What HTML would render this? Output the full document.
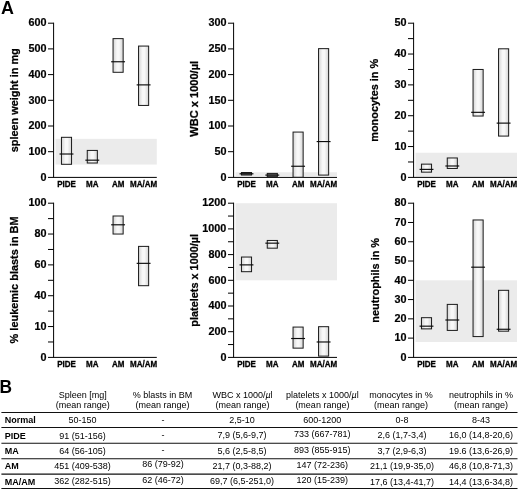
<!DOCTYPE html>
<html><head><meta charset="utf-8"><title>Figure</title>
<style>
html,body{margin:0;padding:0;background:#fff;}
body{width:520px;height:490px;overflow:hidden;}
svg{display:block;will-change:transform;font-family:"Liberation Sans",sans-serif;}
.pl{font-size:17.9px;font-weight:bold;fill:#000;}
.tk{font-size:10.8px;font-weight:bold;fill:#000;stroke:#000;stroke-width:0.2px;text-anchor:end;}
.yl{font-weight:bold;fill:#000;stroke:#000;stroke-width:0.25px;text-anchor:middle;}
.ct{font-size:9.1px;font-weight:bold;fill:#000;stroke:#000;stroke-width:0.3px;text-anchor:middle;}
.tc{font-size:9px;fill:#000;text-anchor:middle;}
.tr{font-size:9px;font-weight:bold;fill:#000;}
.ax{stroke:#000;stroke-width:1;fill:none;}
.bx{stroke:#1a1a1a;stroke-width:1;fill:url(#g);}
.md{stroke:#0a0a0a;stroke-width:1.15;fill:none;}
.ln{stroke:#111;stroke-width:1.05;fill:none;}
</style></head><body>
<svg width="520" height="490" viewBox="0 0 520 490">
<defs><linearGradient id="g" x1="0" x2="1" y1="0" y2="0"><stop offset="0" stop-color="#d4d4d4"/><stop offset="0.4" stop-color="#f8f8f8"/><stop offset="0.6" stop-color="#f8f8f8"/><stop offset="1" stop-color="#d4d4d4"/></linearGradient></defs>
<rect width="520" height="490" fill="#fff"/>
<text x="0.9" y="13.9" class="pl">A</text>
<text transform="translate(-0.4 392.5) scale(0.97 1.02)" class="pl">B</text>
<rect x="55.50" y="138.85" width="101.30" height="25.70" fill="#ebebeb"/>
<path d="M53.60 22.70V177.40M48.00 177.40H156.80" class="ax"/>
<text x="46.40" y="180.65" class="tk">0</text>
<text x="46.40" y="154.95" class="tk">100</text>
<text x="46.40" y="129.25" class="tk">200</text>
<text x="46.40" y="103.55" class="tk">300</text>
<text x="46.40" y="77.85" class="tk">400</text>
<text x="46.40" y="52.15" class="tk">500</text>
<text x="46.40" y="25.90" class="tk">600</text>
<path d="M48.00 151.70H53.60M48.00 126.00H53.60M48.00 100.30H53.60M48.00 74.60H53.60M48.00 48.90H53.60M48.00 23.20H53.60" class="ax"/>
<text transform="translate(17.60 100.30) rotate(-90)" class="yl" font-size="10.9">spleen weight in mg</text>
<text transform="translate(66.50 186.70) scale(0.88 1)" class="ct">PIDE</text>
<text transform="translate(92.30 186.70) scale(0.88 1)" class="ct">MA</text>
<text transform="translate(118.10 186.70) scale(0.88 1)" class="ct">AM</text>
<text transform="translate(143.60 186.70) scale(0.88 1)" class="ct">MA/AM</text>
<rect x="61.45" y="137.31" width="10.1" height="26.99" class="bx"/>
<path d="M59.55 154.01H73.45" class="md"/>
<rect x="87.25" y="150.42" width="10.1" height="12.59" class="bx"/>
<path d="M85.35 160.18H99.25" class="md"/>
<rect x="113.05" y="38.62" width="10.1" height="33.67" class="bx"/>
<path d="M111.15 61.75H125.05" class="md"/>
<rect x="138.55" y="46.07" width="10.1" height="59.37" class="bx"/>
<path d="M136.65 84.88H150.55" class="md"/>
<rect x="235.50" y="172.26" width="101.50" height="3.86" fill="#ebebeb"/>
<path d="M233.60 22.70V177.40M228.00 177.40H337.00" class="ax"/>
<text x="226.40" y="180.65" class="tk">0</text>
<text x="226.40" y="154.95" class="tk">50</text>
<text x="226.40" y="129.25" class="tk">100</text>
<text x="226.40" y="103.55" class="tk">150</text>
<text x="226.40" y="77.85" class="tk">200</text>
<text x="226.40" y="52.15" class="tk">250</text>
<text x="226.40" y="25.90" class="tk">300</text>
<path d="M228.00 151.70H233.60M228.00 126.00H233.60M228.00 100.30H233.60M228.00 74.60H233.60M228.00 48.90H233.60M228.00 23.20H233.60" class="ax"/>
<text transform="translate(198.10 98.80) rotate(-90)" class="yl" font-size="11.05">WBC x 1000/µl</text>
<text transform="translate(246.50 186.70) scale(0.88 1)" class="ct">PIDE</text>
<text transform="translate(272.30 186.70) scale(0.88 1)" class="ct">MA</text>
<text transform="translate(298.10 186.70) scale(0.88 1)" class="ct">AM</text>
<text transform="translate(323.60 186.70) scale(0.88 1)" class="ct">MA/AM</text>
<rect x="241.45" y="172.52" width="10.1" height="2.52" class="bx" style="fill:#777"/>
<path d="M239.55 173.80H253.45" class="md"/>
<rect x="267.25" y="173.39" width="10.1" height="3.34" class="bx" style="fill:#777"/>
<path d="M265.35 175.09H279.25" class="md"/>
<rect x="293.05" y="132.07" width="10.1" height="45.18" class="bx"/>
<path d="M291.15 166.25H305.05" class="md"/>
<rect x="318.55" y="48.64" width="10.1" height="126.44" class="bx"/>
<path d="M316.65 141.57H330.55" class="md"/>
<rect x="415.50" y="152.73" width="101.50" height="24.67" fill="#ebebeb"/>
<path d="M413.60 22.70V177.40M408.00 177.40H517.00" class="ax"/>
<text x="406.40" y="180.65" class="tk">0</text>
<text x="406.40" y="149.81" class="tk">10</text>
<text x="406.40" y="118.97" class="tk">20</text>
<text x="406.40" y="88.13" class="tk">30</text>
<text x="406.40" y="57.29" class="tk">40</text>
<text x="406.40" y="25.90" class="tk">50</text>
<path d="M408.00 161.98H413.60M408.00 146.56H413.60M408.00 131.14H413.60M408.00 115.72H413.60M408.00 100.30H413.60M408.00 84.88H413.60M408.00 69.46H413.60M408.00 54.04H413.60M408.00 38.62H413.60M408.00 23.20H413.60" class="ax"/>
<text transform="translate(377.60 100.30) rotate(-90)" class="yl" font-size="10.9">monocytes in %</text>
<text transform="translate(426.50 186.70) scale(0.88 1)" class="ct">PIDE</text>
<text transform="translate(452.30 186.70) scale(0.88 1)" class="ct">MA</text>
<text transform="translate(478.10 186.70) scale(0.88 1)" class="ct">AM</text>
<text transform="translate(503.60 186.70) scale(0.88 1)" class="ct">MA/AM</text>
<rect x="421.45" y="164.14" width="10.1" height="8.02" class="bx"/>
<path d="M419.55 169.38H433.45" class="md"/>
<rect x="447.25" y="157.97" width="10.1" height="10.49" class="bx"/>
<path d="M445.35 165.99H459.25" class="md"/>
<rect x="473.05" y="69.46" width="10.1" height="46.57" class="bx"/>
<path d="M471.15 112.33H485.05" class="md"/>
<rect x="498.55" y="48.80" width="10.1" height="87.28" class="bx"/>
<path d="M496.65 123.12H510.55" class="md"/>
<path d="M53.60 202.70V357.40M48.00 357.40H156.80" class="ax"/>
<text x="46.40" y="360.65" class="tk">0</text>
<text x="46.40" y="329.81" class="tk">10</text>
<text x="46.40" y="298.97" class="tk">40</text>
<text x="46.40" y="268.13" class="tk">60</text>
<text x="46.40" y="237.29" class="tk">80</text>
<text x="46.40" y="205.90" class="tk">100</text>
<path d="M48.00 341.98H53.60M48.00 326.56H53.60M48.00 311.14H53.60M48.00 295.72H53.60M48.00 280.30H53.60M48.00 264.88H53.60M48.00 249.46H53.60M48.00 234.04H53.60M48.00 218.62H53.60M48.00 203.20H53.60" class="ax"/>
<text transform="translate(17.60 279.90) rotate(-90)" class="yl" font-size="10.95">% leukemic blasts in BM</text>
<text transform="translate(66.50 366.70) scale(0.88 1)" class="ct">PIDE</text>
<text transform="translate(92.30 366.70) scale(0.88 1)" class="ct">MA</text>
<text transform="translate(118.10 366.70) scale(0.88 1)" class="ct">AM</text>
<text transform="translate(143.60 366.70) scale(0.88 1)" class="ct">MA/AM</text>
<rect x="113.05" y="216.00" width="10.1" height="18.04" class="bx"/>
<path d="M111.15 224.79H125.05" class="md"/>
<rect x="138.55" y="246.38" width="10.1" height="39.32" class="bx"/>
<path d="M136.65 263.34H150.55" class="md"/>
<rect x="235.50" y="203.20" width="101.50" height="77.10" fill="#ebebeb"/>
<path d="M233.60 202.70V357.40M228.00 357.40H337.00" class="ax"/>
<text x="226.40" y="360.65" class="tk">0</text>
<text x="226.40" y="334.95" class="tk">200</text>
<text x="226.40" y="309.25" class="tk">400</text>
<text x="226.40" y="283.55" class="tk">600</text>
<text x="226.40" y="257.85" class="tk">800</text>
<text x="226.40" y="232.15" class="tk">1000</text>
<text x="226.40" y="205.90" class="tk">1200</text>
<path d="M228.00 344.55H233.60M228.00 331.70H233.60M228.00 318.85H233.60M228.00 306.00H233.60M228.00 293.15H233.60M228.00 280.30H233.60M228.00 267.45H233.60M228.00 254.60H233.60M228.00 241.75H233.60M228.00 228.90H233.60M228.00 216.05H233.60M228.00 203.20H233.60" class="ax"/>
<text transform="translate(197.60 280.30) rotate(-90)" class="yl" font-size="10.9">platelets x 1000/µl</text>
<text transform="translate(246.50 366.70) scale(0.88 1)" class="ct">PIDE</text>
<text transform="translate(272.30 366.70) scale(0.88 1)" class="ct">MA</text>
<text transform="translate(298.10 366.70) scale(0.88 1)" class="ct">AM</text>
<text transform="translate(323.60 366.70) scale(0.88 1)" class="ct">MA/AM</text>
<rect x="241.45" y="257.04" width="10.1" height="14.65" class="bx"/>
<path d="M239.55 264.88H253.45" class="md"/>
<rect x="267.25" y="240.46" width="10.1" height="7.71" class="bx"/>
<path d="M265.35 243.16H279.25" class="md"/>
<rect x="293.05" y="327.07" width="10.1" height="21.07" class="bx"/>
<path d="M291.15 338.51H305.05" class="md"/>
<rect x="318.55" y="326.69" width="10.1" height="29.43" class="bx"/>
<path d="M316.65 341.98H330.55" class="md"/>
<rect x="415.50" y="280.30" width="101.50" height="61.68" fill="#ebebeb"/>
<path d="M413.60 202.70V357.40M408.00 357.40H517.00" class="ax"/>
<text x="406.40" y="360.65" class="tk">0</text>
<text x="406.40" y="341.38" class="tk">10</text>
<text x="406.40" y="322.10" class="tk">20</text>
<text x="406.40" y="302.82" class="tk">30</text>
<text x="406.40" y="283.55" class="tk">40</text>
<text x="406.40" y="264.27" class="tk">50</text>
<text x="406.40" y="245.00" class="tk">60</text>
<text x="406.40" y="225.72" class="tk">70</text>
<text x="406.40" y="205.90" class="tk">80</text>
<path d="M408.00 338.12H413.60M408.00 318.85H413.60M408.00 299.57H413.60M408.00 280.30H413.60M408.00 261.02H413.60M408.00 241.75H413.60M408.00 222.47H413.60M408.00 203.20H413.60" class="ax"/>
<text transform="translate(378.60 280.30) rotate(-90)" class="yl" font-size="10.9">neutrophils in %</text>
<text transform="translate(426.50 366.70) scale(0.88 1)" class="ct">PIDE</text>
<text transform="translate(452.30 366.70) scale(0.88 1)" class="ct">MA</text>
<text transform="translate(478.10 366.70) scale(0.88 1)" class="ct">AM</text>
<text transform="translate(503.60 366.70) scale(0.88 1)" class="ct">MA/AM</text>
<rect x="421.45" y="317.69" width="10.1" height="11.18" class="bx"/>
<path d="M419.55 326.17H433.45" class="md"/>
<rect x="447.25" y="304.39" width="10.1" height="26.02" class="bx"/>
<path d="M445.35 320.01H459.25" class="md"/>
<rect x="473.05" y="219.97" width="10.1" height="116.61" class="bx"/>
<path d="M471.15 267.19H485.05" class="md"/>
<rect x="498.55" y="290.32" width="10.1" height="40.86" class="bx"/>
<path d="M496.65 329.26H510.55" class="md"/>
<text x="82.8" y="397.9" class="tc">Spleen [mg]</text>
<text x="82.8" y="408.2" class="tc">(mean range)</text>
<text x="162.5" y="397.9" class="tc">% blasts in BM</text>
<text x="162.5" y="408.2" class="tc">(mean range)</text>
<text x="242.5" y="397.9" class="tc">WBC x 1000/<tspan font-style="italic">µ</tspan>l</text>
<text x="242.5" y="408.2" class="tc">(mean range)</text>
<text x="322.4" y="397.9" class="tc">platelets x 1000/<tspan font-style="italic">µ</tspan>l</text>
<text x="322.4" y="408.2" class="tc">(mean range)</text>
<text x="401" y="397.9" class="tc">monocytes in %</text>
<text x="401" y="408.2" class="tc">(mean range)</text>
<text x="481" y="397.9" class="tc">neutrophils in %</text>
<text x="481" y="408.2" class="tc">(mean range)</text>
<text x="4.8" y="423.0" class="tr">Normal</text>
<text x="82.5" y="422.75" class="tc">50-150</text>
<text x="162.9" y="422.75" class="tc">-</text>
<text x="242.0" y="422.75" class="tc">2,5-10</text>
<text x="322.2" y="422.75" class="tc">600-1200</text>
<text x="402" y="422.75" class="tc">0-8</text>
<text x="481" y="422.75" class="tc">8-43</text>
<text x="4.8" y="438.6" class="tr">PIDE</text>
<text x="82.5" y="438.55" class="tc">91 (51-156)</text>
<text x="162.9" y="438.05" class="tc">-</text>
<text x="242.0" y="438.30" class="tc">7,9 (5,6-9,7)</text>
<text x="322.2" y="436.85" class="tc">733 (667-781)</text>
<text x="402" y="438.35" class="tc">2,6 (1,7-3,4)</text>
<text x="481" y="438.35" class="tc">16,0 (14,8-20,6)</text>
<text x="4.8" y="453.75" class="tr">MA</text>
<text x="82.5" y="453.75" class="tc">64 (56-105)</text>
<text x="162.9" y="453.00" class="tc">-</text>
<text x="242.0" y="453.95" class="tc">5,6 (2,5-8,5)</text>
<text x="322.2" y="452.55" class="tc">893 (855-915)</text>
<text x="402" y="454.05" class="tc">3,7 (2,9-6,3)</text>
<text x="481" y="454.05" class="tc">19.6 (13,6-26,9)</text>
<text x="4.8" y="469.1" class="tr">AM</text>
<text x="82.5" y="468.80" class="tc">451 (409-538)</text>
<text x="162.9" y="467.40" class="tc">86 (79-92)</text>
<text x="242.0" y="469.30" class="tc">21,7 (0,3-88,2)</text>
<text x="322.2" y="467.80" class="tc">147 (72-236)</text>
<text x="402" y="469.40" class="tc">21,1 (19,9-35,0)</text>
<text x="481" y="469.40" class="tc">46,8 (10,8-71,3)</text>
<text x="4.8" y="484.5" class="tr">MA/AM</text>
<text x="82.5" y="483.90" class="tc">362 (282-515)</text>
<text x="162.9" y="483.20" class="tc">62 (46-72)</text>
<text x="242.0" y="484.40" class="tc">69,7 (6,5-251,0)</text>
<text x="322.2" y="483.20" class="tc">120 (15-239)</text>
<text x="402" y="484.50" class="tc">17,6 (13,4-41,7)</text>
<text x="481" y="484.50" class="tc">14,4 (13,6-34,8)</text>
<path d="M1.4 412.4H517.5M1.4 427.55H517.5M1.4 443.25H517.5M1.4 458.7H517.5M1.4 474.1H517.5M1.4 488.5H517.5" class="ln"/>
</svg>
</body></html>
